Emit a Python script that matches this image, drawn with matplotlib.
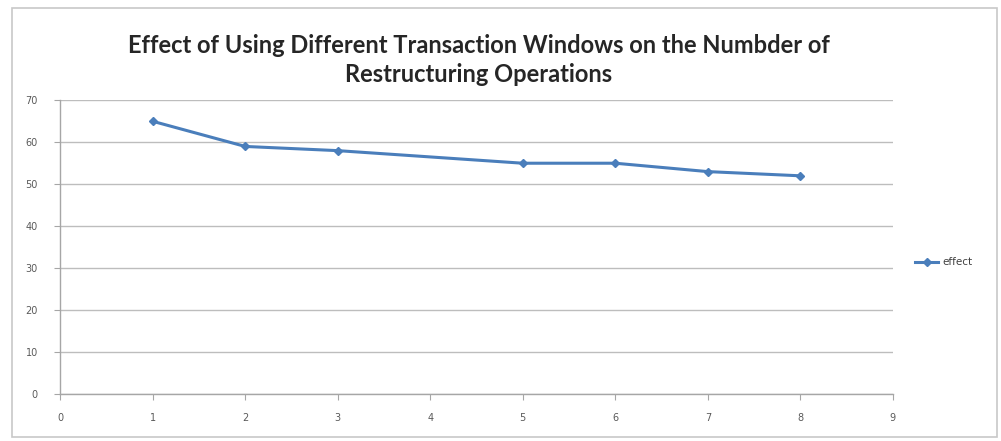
import matplotlib
matplotlib.use("Agg")
import matplotlib.pyplot as plt
from matplotlib.patches import Rectangle

# data
windows = [1, 2, 3, 5, 6, 7, 8]
effect = [65, 59, 58, 55, 55, 53, 52]
y_ticks = [0, 10, 20, 30, 40, 50, 60, 70]
x_ticks = list(range(0, 10))

blue = "#4a7ebb"
grey = "#a6a6a6"

fig = plt.figure(figsize=(10.01, 4.41), dpi=100)
ax = fig.add_axes([0.06, 0.1066, 0.832, 0.666])

# chart-area border
fig.patches.append(Rectangle((0.012, 0.01), 0.984, 0.972, transform=fig.transFigure,
                             fill=False, edgecolor="#c8c8c8", linewidth=1.2))

ax.plot(windows, effect, color=blue, linewidth=2.2, marker="D", markersize=4.5,
        markerfacecolor=blue, markeredgecolor=blue, label="effect")

ax.set_xlim(0, 9)
ax.set_ylim(0, 70)
ax.set_xticks(x_ticks)
ax.set_yticks(y_ticks)
ax.yaxis.grid(True, color="#bdbdbd", linewidth=1.0)
ax.set_axisbelow(True)

for s in ["top", "right"]:
    ax.spines[s].set_visible(False)
for s in ["left", "bottom"]:
    ax.spines[s].set_color(grey)
    ax.spines[s].set_linewidth(1.0)

ax.tick_params(axis="both", colors=grey, labelcolor="#595959", labelsize=7,
               length=4, width=0.8)
ax.tick_params(axis="y", pad=12)
ax.tick_params(axis="x", pad=10)

fig.text(0.478, 0.864, "Effect of Using Different Transaction Windows on the Numbder of\nRestructuring Operations",
         ha="center", va="center", fontsize=17, fontweight="bold", family="Lato",
         color="#262626", linespacing=1.3)

leg = fig.legend(loc="center left", bbox_to_anchor=(0.905, 0.405), frameon=False,
                 fontsize=7.5, handlelength=2.2, handletextpad=0.4)
for t in leg.get_texts():
    t.set_color("#404040")

plt.savefig("out.png", dpi=100)
